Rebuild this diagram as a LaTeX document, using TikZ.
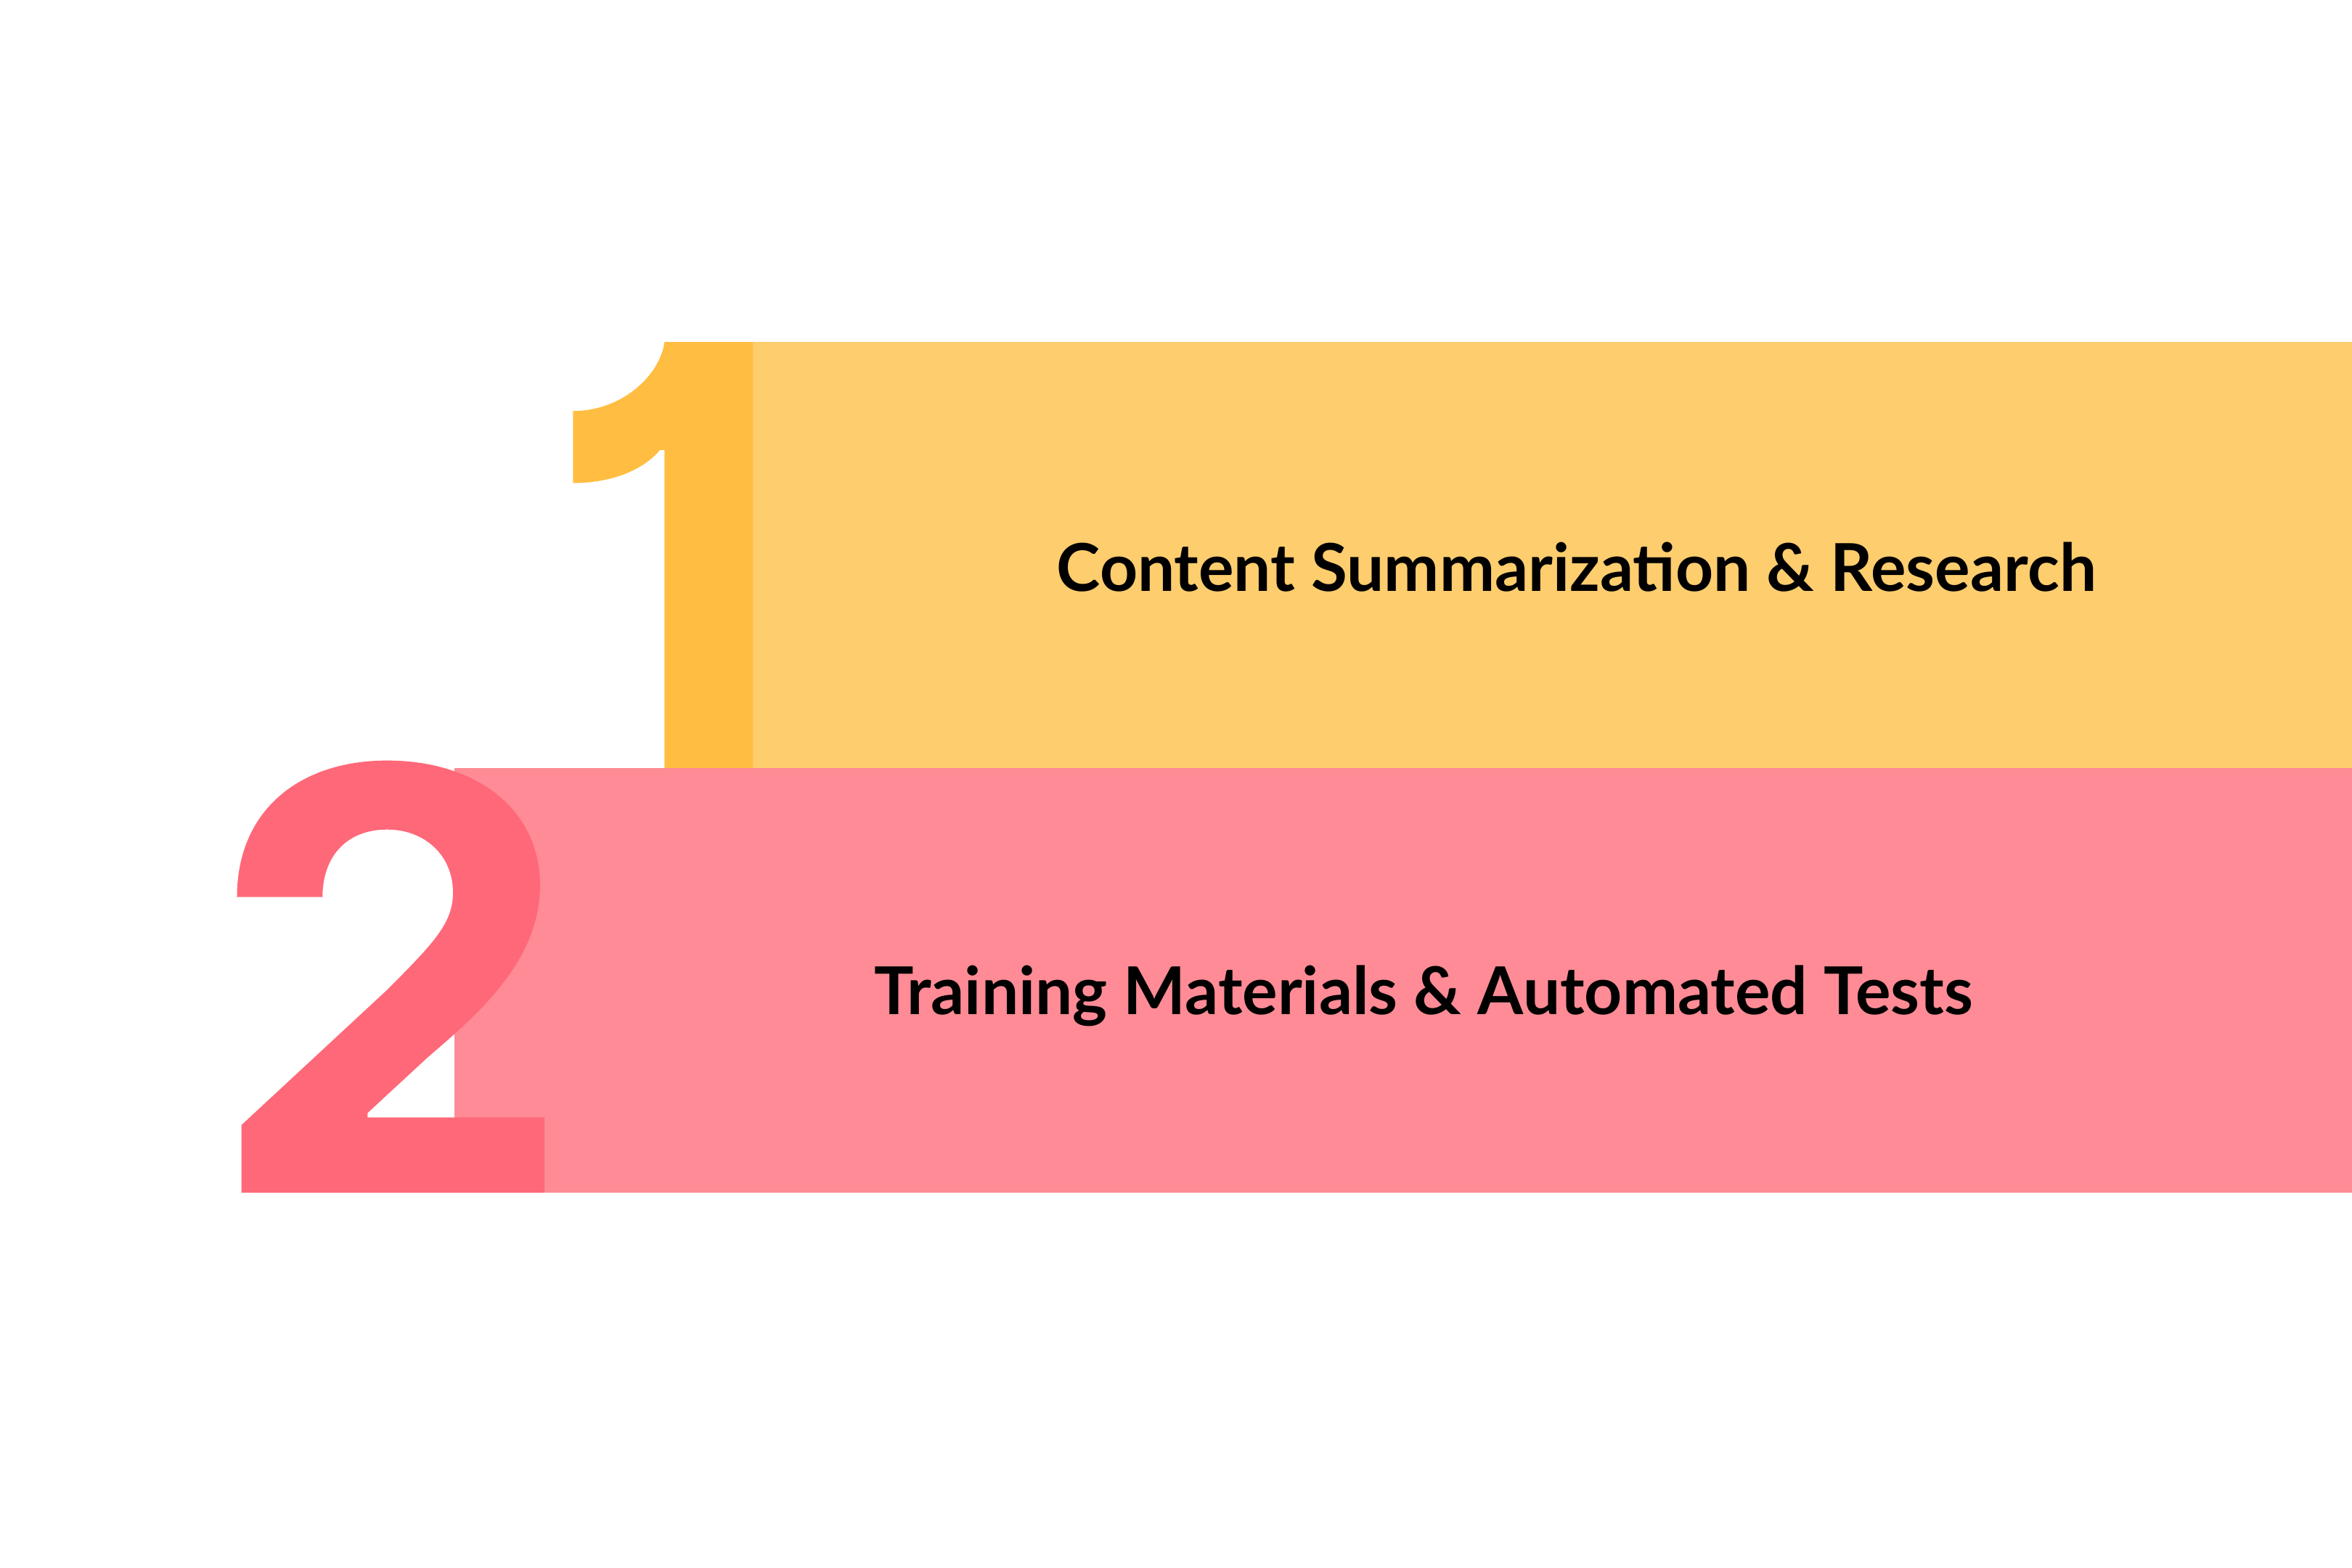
\documentclass[tikz,border=0pt]{standalone}
\usepackage{fontspec}
\setmainfont{Lato}
\definecolor{ybg}{HTML}{FDCD6E}
\definecolor{ynum}{HTML}{FFBE42}
\definecolor{pbg}{HTML}{FE8B95}
\definecolor{pnum}{HTML}{FF6878}
\tikzset{lbl/.style={font=\fontsize{44}{50}\selectfont\bfseries, text=black}}
\begin{document}
\begin{tikzpicture}[x=1pt,y=-1pt]
\useasboundingbox (0,0) rectangle (1568,1045);
\fill[white] (0,0) rectangle (1568,1045);
\fill[ybg] (502,228) rectangle (1568,512);
\fill[ynum] (382,274) .. controls (415,274) and (440,250) .. (443,228) -- (502,228) -- (502,512) -- (443,512) -- (443,300) -- (440,300) .. controls (430,312) and (410,322) .. (382,322) -- cycle;
\fill[pbg] (303,512) rectangle (1568,795);
\fill[pnum] (158,598) .. controls (158,540) and (200,507) .. (258,507) .. controls (318,507) and (360,540) .. (360,590) .. controls (360,640) and (320,675) .. (285,705) -- (245,742) -- (245,745) -- (363,745) -- (363,795) -- (161,795) -- (161,750) -- (258,660) .. controls (290,628) and (302,615) .. (302,595) .. controls (302,570) and (283,553) .. (258,553) .. controls (232,553) and (215,570) .. (215,598) -- cycle;
\node[lbl] (t1) at (1051,378) {Content Summarization \& Research};
\node[lbl] (t2) at (949,664) {Training Materials \& Automated Tests};
\end{tikzpicture}
\end{document}
